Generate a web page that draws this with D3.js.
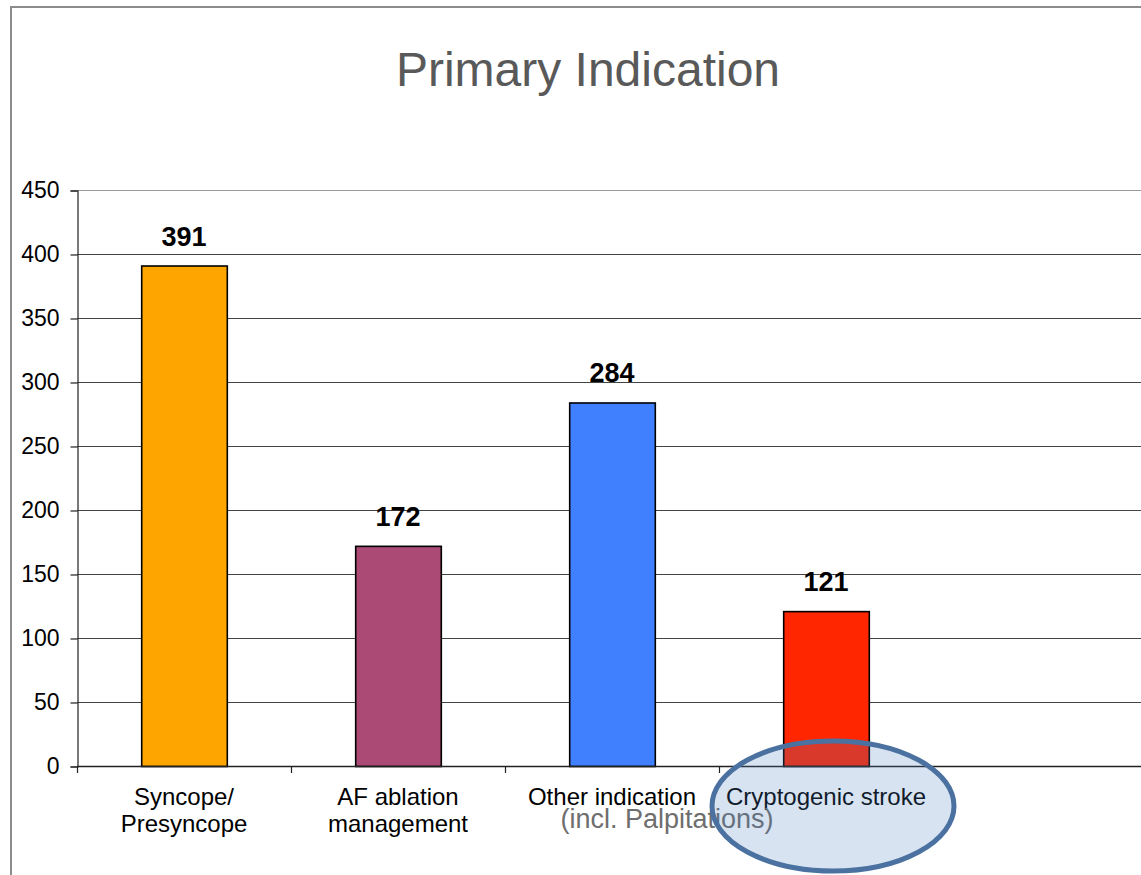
<!DOCTYPE html>
<html>
<head>
<meta charset="utf-8">
<script src="https://cdnjs.cloudflare.com/ajax/libs/d3/7.8.5/d3.min.js"></script>
<style>
  body { margin: 0; background: #fff; }
  svg { display: block; font-family: "Liberation Sans", Arial, sans-serif; }
</style>
</head>
<body>
<div id="chart"></div>
<script>
'use strict'

var outerWidth = 1141;
var outerHeight = 875;

// chart data
var categories = ['Syncope/\nPresyncope', 'AF ablation\nmanagement', 'Other indication', 'Cryptogenic stroke', ''];
var values = [391, 172, 284, 121, null];
var barColors = ['#ffa500', '#aa4a75', '#4080ff', '#ff2600', 'none'];
var yTicks = [0, 50, 100, 150, 200, 250, 300, 350, 400, 450];
var titleText = 'Primary Indication';
var noteText = '(incl. Palpitations)';

var plot = {left: 77, top: 190, bottom: 766, right: 77 + 214 * 5};

var svg = d3.select('#chart').append('svg')
  .attr('width', outerWidth)
  .attr('height', outerHeight);

//outer frame of the slide chart
svg.append('path')
  .attr('d', 'M11,' + outerHeight + 'V7H' + outerWidth)
  .attr('fill', 'none')
  .attr('stroke', '#8c8c8c')
  .attr('stroke-width', 2);

//title
svg.append('text')
  .attr('x', 588)
  .attr('y', 86)
  .attr('text-anchor', 'middle')
  .attr('font-size', 48)
  .attr('fill', '#595959')
  .text(titleText);

var xScale = d3.scaleBand()
  .domain(d3.range(categories.length))
  .range([plot.left, plot.right])
  .paddingInner(0.6)
  .paddingOuter(0.3);

var yScale = d3.scaleLinear()
  .domain([0, 450])
  .range([plot.bottom, plot.top]);

//grid lines
svg.append('g').selectAll('line')
  .data(yTicks.filter(function(d){return d > 0;}))
  .enter().append('line')
    .attr('x1', plot.left)
    .attr('x2', plot.right)
    .attr('y1', function(d){return yScale(d) + 0.5;})
    .attr('y2', function(d){return yScale(d) + 0.5;})
    .attr('stroke', function(d){return d === 450 ? '#999' : '#444';})
    .attr('stroke-width', 1.2);

//y axis
var yAxis = svg.append('g')
  .attr('transform', 'translate(' + (plot.left + 0.5) + ',0.5)')
  .call(d3.axisLeft(yScale).tickValues(yTicks).tickSize(7).tickPadding(11));
yAxis.selectAll('text')
  .attr('font-size', 23)
  .attr('fill', '#000')
  .attr('font-family', '"Liberation Sans", Arial, sans-serif');
yAxis.selectAll('line, path').attr('stroke', '#222').attr('stroke-width', 1.2);

//bars
svg.append('g').selectAll('rect')
  .data(values)
  .enter().filter(function(d){return d !== null;})
  .append('rect')
    .attr('x', function(d, i){return xScale(i) + 0.5;})
    .attr('y', function(d){return yScale(d) + 0.5;})
    .attr('width', xScale.bandwidth())
    .attr('height', function(d){return yScale(0) - yScale(d);})
    .attr('fill', function(d, i){return barColors[i];})
    .attr('stroke', '#000')
    .attr('stroke-width', 1.6);

//value labels
svg.append('g').selectAll('text')
  .data(values)
  .enter().filter(function(d){return d !== null;})
  .append('text')
    .attr('x', function(d, i){return xScale(i) + xScale.bandwidth() / 2;})
    .attr('y', function(d){return yScale(d) - 20;})
    .attr('text-anchor', 'middle')
    .attr('font-size', 27)
    .attr('font-weight', 'bold')
    .attr('fill', '#000')
    .text(function(d){return d;});

//x axis line with category ticks
svg.append('line')
  .attr('x1', plot.left)
  .attr('x2', plot.right)
  .attr('y1', plot.bottom + 0.5)
  .attr('y2', plot.bottom + 0.5)
  .attr('stroke', '#222')
  .attr('stroke-width', 1.4);
svg.append('g').selectAll('line')
  .data(d3.range(categories.length))
  .enter().append('line')
    .attr('x1', function(d){return plot.left + d * xScale.step() + 0.5;})
    .attr('x2', function(d){return plot.left + d * xScale.step() + 0.5;})
    .attr('y1', plot.bottom)
    .attr('y2', plot.bottom + 7)
    .attr('stroke', '#222')
    .attr('stroke-width', 1.2);

//category labels
var catLabels = svg.append('g').selectAll('text')
  .data(categories)
  .enter().append('text')
    .attr('x', function(d, i){return xScale(i) + xScale.bandwidth() / 2;})
    .attr('y', 805)
    .attr('text-anchor', 'middle')
    .attr('font-size', 24)
    .attr('fill', '#000');
catLabels.each(function(d){
  var lines = d.split('\n');
  var t = d3.select(this);
  lines.forEach(function(l, k){
    t.append('tspan')
      .attr('x', t.attr('x'))
      .attr('dy', k === 0 ? 0 : 27)
      .text(l);
  });
});

//note under "Other indication"
svg.append('text')
  .attr('x', 667)
  .attr('y', 828)
  .attr('text-anchor', 'middle')
  .attr('font-size', 27)
  .attr('fill', '#6e6e6e')
  .text(noteText);

//highlight ellipse around cryptogenic stroke
svg.append('ellipse')
  .attr('cx', xScale(3) + xScale.bandwidth() / 2 + 7)
  .attr('cy', 806)
  .attr('rx', 121)
  .attr('ry', 65)
  .attr('fill', 'rgba(79,129,189,0.22)')
  .attr('stroke', '#4a71a0')
  .attr('stroke-width', 5);
</script>
</body>
</html>
